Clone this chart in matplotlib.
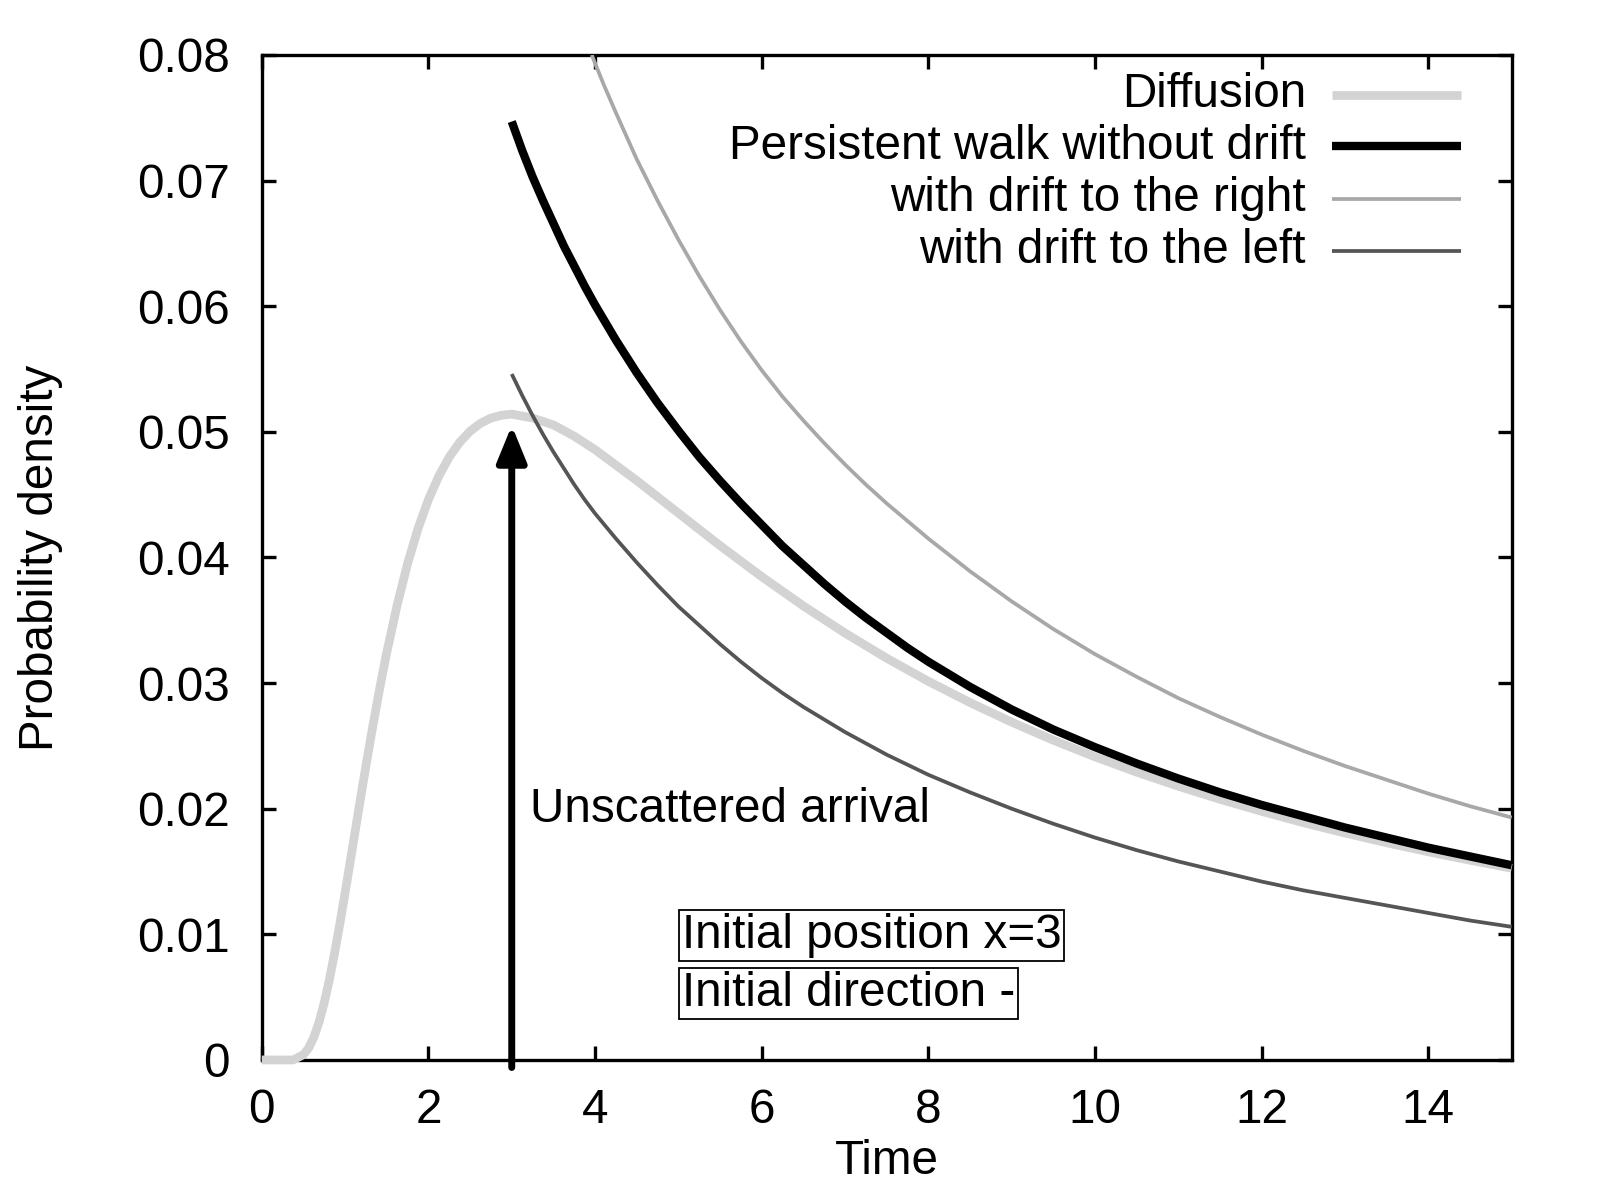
import matplotlib
matplotlib.use("Agg")
import matplotlib.pyplot as plt

# ----------------------------
# data
# ----------------------------
t_diff = [0.0, 0.25, 0.375, 0.5, 0.5625, 0.625, 0.6875, 0.75, 0.8125, 0.875, 0.9375,
          1.0, 1.0625, 1.125, 1.1875, 1.25, 1.3125, 1.375, 1.4375, 1.5, 1.625, 1.75,
          1.875, 2.0, 2.125, 2.25, 2.375, 2.5, 2.625, 2.75, 2.875, 3.0, 3.25, 3.5,
          3.75, 4.0, 4.5, 5.0, 5.5, 6.0, 6.5, 7.0, 7.5, 8.0, 8.5, 9.0, 9.5, 10.0,
          10.5, 11.0, 11.5, 12.0, 12.5, 13.0, 13.5, 14.0, 14.5, 15.0]
p_diff = [0.0, 0.0, 0.0, 0.00042, 0.00095, 0.00181, 0.00301, 0.00457, 0.00642, 0.00855,
          0.01085, 0.01330, 0.01582, 0.01838, 0.02091, 0.02340, 0.02581, 0.02813,
          0.03035, 0.03243, 0.03622, 0.03951, 0.04229, 0.04460, 0.04648, 0.04799,
          0.04916, 0.05005, 0.05068, 0.05109, 0.05132, 0.05141, 0.05110, 0.05055,
          0.04965, 0.04858, 0.04612, 0.04353, 0.04094, 0.03847, 0.03614, 0.03398,
          0.03198, 0.03014, 0.02845, 0.02689, 0.02545, 0.02413, 0.02291, 0.02179,
          0.02075, 0.01979, 0.01889, 0.01806, 0.01729, 0.01657, 0.01590, 0.01526]

t_walk = [3.0, 3.125, 3.25, 3.375, 3.5, 3.625, 3.75, 3.875, 4.0, 4.25, 4.5, 4.75,
          5.0, 5.25, 5.5, 5.75, 6.0, 6.25, 6.5, 6.75, 7.0, 7.25, 7.5, 7.75, 8.0,
          8.5, 9.0, 9.5, 10.0, 10.5, 11.0, 11.5, 12.0, 12.5, 13.0, 13.5, 14.0,
          14.5, 15.0]
p_nodrift = [0.0747, 0.0724, 0.0703, 0.0684, 0.0666, 0.0648, 0.0632, 0.0616, 0.0601,
             0.0573, 0.0547, 0.0523, 0.0501, 0.0480, 0.0461, 0.0443, 0.0426, 0.0409,
             0.0394, 0.0379, 0.0365, 0.0352, 0.0340, 0.0328, 0.0317, 0.0297, 0.0279,
             0.0263, 0.0249, 0.0236, 0.0224, 0.0213, 0.0203, 0.0194, 0.0185, 0.0177,
             0.0169, 0.0162, 0.0155]
p_left = [0.0546, 0.0529, 0.0513, 0.0498, 0.0484, 0.0471, 0.0458, 0.0446, 0.0435,
          0.0415, 0.0396, 0.0378, 0.0361, 0.0346, 0.0331, 0.0317, 0.0304, 0.0292,
          0.0281, 0.0271, 0.0261, 0.0252, 0.0243, 0.0235, 0.0227, 0.0213, 0.0200,
          0.0188, 0.0177, 0.0167, 0.0158, 0.0150, 0.0142, 0.0135, 0.0129, 0.0123,
          0.0117, 0.0111, 0.0106]

t_right = [3.96, 4.1, 4.25, 4.5, 4.75, 5.0, 5.25, 5.5, 5.75, 6.0, 6.25, 6.5, 6.75,
           7.0, 7.25, 7.5, 7.75, 8.0, 8.5, 9.0, 9.5, 10.0, 10.5, 11.0, 11.5, 12.0,
           12.5, 13.0, 13.5, 14.0, 14.5, 15.0]
p_right = [0.0800, 0.0777, 0.0754, 0.0717, 0.0684, 0.0653, 0.0624, 0.0597, 0.0572,
           0.0549, 0.0528, 0.0509, 0.0491, 0.0474, 0.0458, 0.0443, 0.0429, 0.0415,
           0.0389, 0.0365, 0.0343, 0.0323, 0.0305, 0.0288, 0.0273, 0.0259, 0.0246,
           0.0234, 0.0223, 0.0212, 0.0202, 0.0193]

x_ticks = [0, 2, 4, 6, 8, 10, 12, 14]
y_ticks = [0, 0.01, 0.02, 0.03, 0.04, 0.05, 0.06, 0.07, 0.08]
y_tick_labels = ["0", "0.01", "0.02", "0.03", "0.04", "0.05", "0.06", "0.07", "0.08"]

arrival_time = 3.0
arrival_height = 0.0505

labels = ["Diffusion", "Persistent walk without drift",
          "with drift to the right", "with drift to the left"]

# ----------------------------
# styling
# ----------------------------
plt.rcParams["font.family"] = ["Liberation Sans", "DejaVu Sans"]
FS = 34.3

fig = plt.figure(figsize=(16, 12), dpi=100)
ax = fig.add_axes([0.1636, 0.1167, 0.9448 - 0.1636, 0.9542 - 0.1167])

styles = [
    dict(color="#d3d3d3", lw=6.3, zorder=3, clip_on=False),
    dict(color="black", lw=6.0, zorder=5),
    dict(color="#a8a8a8", lw=2.7, zorder=4),
    dict(color="#555555", lw=2.7, zorder=6),
]
series = [(t_diff, p_diff), (t_walk, p_nodrift), (t_right, p_right), (t_walk, p_left)]

for (tx, py), st in zip(series, styles):
    ax.plot(tx, py, solid_capstyle="butt", solid_joinstyle="round", **st)

ax.set_xlim(0, 15)
ax.set_ylim(0, 0.08)
ax.set_xticks(x_ticks)
ax.set_xticklabels([str(v) for v in x_ticks])
ax.set_yticks(y_ticks)
ax.set_yticklabels(y_tick_labels)
ax.tick_params(axis="both", direction="in", length=10, width=2.4,
               top=True, right=True, labelsize=FS)
ax.tick_params(axis="x", pad=20)
ax.tick_params(axis="y", pad=23)
for sp in ax.spines.values():
    sp.set_linewidth(2.4)

ax.set_xlabel("Time", fontsize=FS)
ax.set_ylabel("Probability density", fontsize=FS)
ax.xaxis.set_label_coords(0.5, -0.079)
ax.yaxis.set_label_coords(-0.159, 0.5)

# legend drawn gnuplot-like: text right aligned, sample on the right
leg_y = [0.9602, 0.9094, 0.8567, 0.8050]
for lab, st, yy in zip(labels, styles, leg_y):
    ax.text(0.8354, yy, lab, transform=ax.transAxes, ha="right", va="center", fontsize=FS)
    ax.plot([0.8562, 0.9594], [yy, yy], transform=ax.transAxes,
            color=st["color"], lw=st["lw"], solid_capstyle="butt", clip_on=False)

# unscattered arrival arrow
ax.annotate("", xy=(arrival_time, arrival_height), xytext=(arrival_time, -0.0006),
            arrowprops=dict(arrowstyle="-|>,head_length=1.1,head_width=0.45",
                            lw=5, color="black", shrinkA=0, shrinkB=0,
                            mutation_scale=20),
            zorder=7, annotation_clip=False)
ax.text(3.22, 0.0199, "Unscattered arrival", fontsize=FS, ha="left", va="center")

box = dict(boxstyle="square,pad=0.06", fc="white", ec="black", lw=1.3)
ax.text(5.04, 0.0099, "Initial position x=3", fontsize=FS, ha="left", va="center", bbox=box)
ax.text(5.04, 0.0053, "Initial direction -", fontsize=FS, ha="left", va="center", bbox=box)

fig.savefig("out.png", dpi=100)
